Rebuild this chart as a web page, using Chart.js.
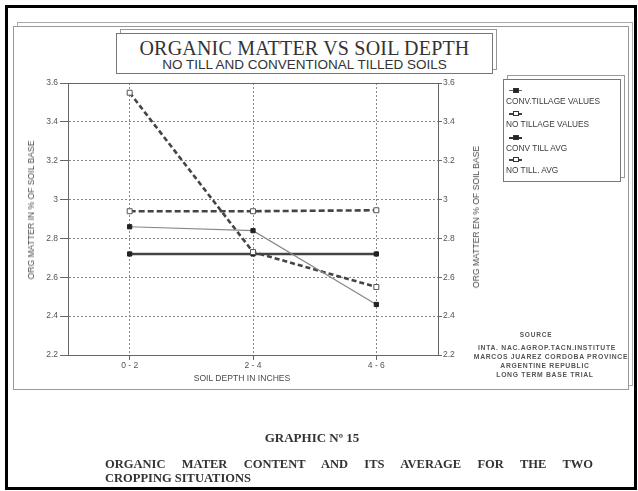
<!DOCTYPE html>
<html>
<head>
<meta charset="utf-8">
<script src="https://cdn.jsdelivr.net/npm/chart.js@4.4.1/dist/chart.umd.min.js"></script>
<style>
  html, body { margin: 0; padding: 0; background: #fff; }
  body { width: 638px; height: 491px; position: relative; overflow: hidden; }
  .abs { position: absolute; box-sizing: border-box; }
  .sans { font-family: "Liberation Sans", Arial, sans-serif; }
  .serif { font-family: "Liberation Serif", "Times New Roman", serif; }
  #chartWrap { position: absolute; left: 0; top: 0; width: 638px; height: 491px; z-index: 1; }
  .txt { z-index: 2; white-space: nowrap; color: #444; }
  .leg-item { position: absolute; left: 0; font-size: 8.3px; color: #3a3a3a; }
  .mk { position: absolute; height: 0; }
</style>
</head>
<body>
  <!-- outer page border -->
  <div class="abs" style="left:5px;top:5px;width:632px;height:485px;border:3px solid #000;"></div>
  <!-- 3D chart frame -->
  <div class="abs" style="left:17px;top:22px;width:616px;height:364px;border:1px solid #aaa;background:#fff;"></div>
  <div class="abs" style="left:13px;top:26px;width:616px;height:364px;border:1px solid #999;background:#fff;"></div>
  <!-- title box -->
  <div class="abs" style="left:120px;top:29px;width:377px;height:41px;border:1px solid #999;background:#fff;z-index:2;"></div>
  <div class="abs" style="left:116px;top:33px;width:377px;height:41px;border:1px solid #777;background:#fff;z-index:2;"></div>
  <div class="abs txt serif" style="left:116px;top:37px;width:377px;text-align:center;font-size:20px;line-height:22px;color:#333;letter-spacing:0.2px;">ORGANIC MATTER VS SOIL DEPTH</div>
  <div class="abs txt sans" style="left:116px;top:57px;width:377px;text-align:center;font-size:13.5px;line-height:15px;color:#333;">NO TILL AND CONVENTIONAL TILLED SOILS</div>
  <!-- legend box -->
  <div class="abs" style="left:507px;top:75px;width:118px;height:103px;border:1px solid #999;background:#fff;z-index:2;"></div>
  <div class="abs" style="left:503px;top:79px;width:118px;height:103px;border:1px solid #777;background:#fff;z-index:2;"></div>
  <div class="abs sans" id="legend" style="left:506px;top:79px;width:115px;height:103px;z-index:3;"></div>
  <!-- axis titles -->
  <div class="abs txt sans" style="left:31px;top:210px;font-size:8.6px;color:#4a4a4a;transform:translate(-50%,-50%) rotate(-90deg);">ORG MATTER IN % OF SOIL BASE</div>
  <div class="abs txt sans" style="left:476px;top:217px;font-size:8.6px;color:#4a4a4a;transform:translate(-50%,-50%) rotate(-90deg);">ORG MATTER EN % OF SOIL BASE</div>
  <div class="abs txt sans" style="left:242px;top:378px;font-size:8.6px;color:#4a4a4a;transform:translate(-50%,-50%);">SOIL DEPTH IN INCHES</div>
  <!-- source -->
  <div class="abs txt sans" style="left:536px;top:334px;font-size:6.5px;font-weight:bold;color:#555;letter-spacing:0.8px;transform:translate(-50%,-50%);">SOURCE</div>
  <div class="abs txt sans" style="left:547px;top:347px;font-size:6.8px;font-weight:bold;color:#555;letter-spacing:0.7px;transform:translate(-50%,-50%);">INTA. NAC.AGROP.TACN.INSTITUTE</div>
  <div class="abs txt sans" style="left:551px;top:356px;font-size:6.8px;font-weight:bold;color:#555;letter-spacing:0.7px;transform:translate(-50%,-50%);">MARCOS JUAREZ CORDOBA PROVINCE</div>
  <div class="abs txt sans" style="left:545px;top:365px;font-size:6.8px;font-weight:bold;color:#555;letter-spacing:0.7px;transform:translate(-50%,-50%);">ARGENTINE REPUBLIC</div>
  <div class="abs txt sans" style="left:545px;top:374px;font-size:6.8px;font-weight:bold;color:#555;letter-spacing:0.7px;transform:translate(-50%,-50%);">LONG TERM BASE TRIAL</div>
  <!-- captions -->
  <div class="abs txt serif" style="left:312px;top:438px;font-size:13px;font-weight:bold;color:#333;transform:translate(-50%,-50%);">GRAPHIC Nº 15</div>
  <div class="abs serif" style="left:105px;top:457px;width:488px;font-size:12.5px;line-height:14px;font-weight:bold;color:#333;text-align:justify;text-align-last:justify;z-index:2;">ORGANIC MATER CONTENT AND ITS AVERAGE FOR THE TWO</div>
  <div class="abs txt serif" style="left:105px;top:471px;font-size:12.5px;line-height:14px;font-weight:bold;color:#333;">CROPPING SITUATIONS</div>

  <div id="chartWrap"><canvas id="c" width="638" height="491"></canvas></div>

<script>
// ---- data ----
const categories = ['0 - 2', '2 - 4', '4 - 6'];
const convTillageValues = [2.86, 2.84, 2.46];
const noTillageValues = [3.55, 2.73, 2.55];
const convTillAvg = [2.72, 2.72, 2.72];
const noTillAvg = [2.94, 2.94, 2.945];
const yTickValues = [2.2, 2.4, 2.6, 2.8, 3.0, 3.2, 3.4, 3.6];
const yTickLabels = ['2.2', '2.4', '2.6', '2.8', '3', '3.2', '3.4', '3.6'];
const legendLabels = ['CONV.TILLAGE VALUES', 'NO TILLAGE VALUES', 'CONV TILL AVG', 'NO TILL. AVG'];

// ---- legend (HTML) ----
const legendStyles = [
  {line: '1px solid #666', fill: '#222'},
  {line: '2px dashed #444', fill: '#fff'},
  {line: '2px solid #333', fill: '#222'},
  {line: '2px dashed #444', fill: '#fff'}
];
const legEl = document.getElementById('legend');
const markerY = [11, 34, 58, 80];
legendLabels.forEach((lab, i) => {
  const st = legendStyles[i];
  const ln = document.createElement('div');
  ln.className = 'mk';
  ln.style.cssText = `left:3px;top:${markerY[i]}px;width:13px;border-top:${st.line};`;
  legEl.appendChild(ln);
  const sq = document.createElement('div');
  sq.className = 'mk';
  sq.style.cssText = `left:7px;top:${markerY[i]-2.5}px;width:6px;height:5px;box-sizing:border-box;border:1px solid #333;background:${st.fill};`;
  legEl.appendChild(sq);
  const t = document.createElement('div');
  t.className = 'leg-item';
  t.style.top = (markerY[i] + 6) + 'px';
  t.textContent = lab;
  legEl.appendChild(t);
});

// ---- chart ----
const frame = {
  id: 'frame',
  beforeDatasetsDraw(chart) {
    const {ctx, chartArea: a} = chart;
    ctx.save();
    ctx.strokeStyle = '#666';
    ctx.lineWidth = 1;
    ctx.setLineDash([]);
    ctx.strokeRect(Math.round(a.left) + 0.5, Math.round(a.top) + 0.5,
                   Math.round(a.right - a.left), Math.round(a.bottom - a.top));
    ctx.restore();
  }
};

const tickFont = {family: '"Liberation Sans", Arial, sans-serif', size: 8.5};

new Chart(document.getElementById('c'), {
  type: 'line',
  data: {
    labels: categories,
    datasets: [
      {label: legendLabels[0], data: convTillageValues, yAxisID: 'y',
       borderColor: '#888', borderWidth: 1.2, pointStyle: 'rect', pointRadius: 3,
       pointBackgroundColor: '#222', pointBorderColor: '#222', pointBorderWidth: 1, tension: 0},
      {label: legendLabels[1], data: noTillageValues, yAxisID: 'y',
       borderColor: '#444', borderWidth: 2.6, borderDash: [5, 3], pointStyle: 'rect', pointRadius: 3.5,
       pointBackgroundColor: '#fff', pointBorderColor: '#555', pointBorderWidth: 1, tension: 0},
      {label: legendLabels[2], data: convTillAvg, yAxisID: 'y',
       borderColor: '#444', borderWidth: 2.6, pointStyle: 'rect', pointRadius: 3,
       pointBackgroundColor: '#222', pointBorderColor: '#222', pointBorderWidth: 1, tension: 0},
      {label: legendLabels[3], data: noTillAvg, yAxisID: 'y',
       borderColor: '#444', borderWidth: 2.6, borderDash: [6, 3], pointStyle: 'rect', pointRadius: 3.5,
       pointBackgroundColor: '#fff', pointBorderColor: '#555', pointBorderWidth: 1, tension: 0}
    ]
  },
  options: {
    responsive: false,
    animation: false,
    events: [],
    layout: {padding: {left: 0, top: 83, right: 150, bottom: 116}},
    plugins: {legend: {display: false}, tooltip: {enabled: false}, title: {display: false}},
    scales: {
      x: {
        type: 'category',
        offset: true,
        afterFit(s) { s.height = 20; },
        grid: {offset: false, color: '#888', lineWidth: 1, drawTicks: true, tickLength: 5,
               tickColor: '#666', tickBorderDash: []},
        border: {display: true, color: '#666', width: 1, dash: [2, 2]},
        ticks: {font: tickFont, color: '#555', padding: 1, maxRotation: 0}
      },
      y: {
        type: 'linear', position: 'left', min: 2.2, max: 3.6,
        afterFit(s) { s.width = 68; },
        afterBuildTicks(s) { s.ticks = yTickValues.map(v => ({value: v})); },
        grid: {color: '#888', lineWidth: 1, drawTicks: true, tickLength: 8,
               tickColor: '#666', tickBorderDash: []},
        border: {display: true, color: '#666', width: 1, dash: [2, 2]},
        ticks: {font: tickFont, color: '#555', padding: 2,
                callback: (v, i) => yTickLabels[i]}
      },
      y2: {
        type: 'linear', position: 'right', min: 2.2, max: 3.6,
        afterFit(s) { s.width = 50; },
        afterBuildTicks(s) { s.ticks = yTickValues.map(v => ({value: v})); },
        grid: {drawOnChartArea: false, drawTicks: true, tickLength: 4,
               tickColor: '#666', tickBorderDash: []},
        border: {display: true, color: '#666', width: 1},
        ticks: {font: tickFont, color: '#555', padding: 1,
                callback: (v, i) => yTickLabels[i]}
      }
    }
  },
  plugins: [frame]
});
</script>
</body>
</html>
